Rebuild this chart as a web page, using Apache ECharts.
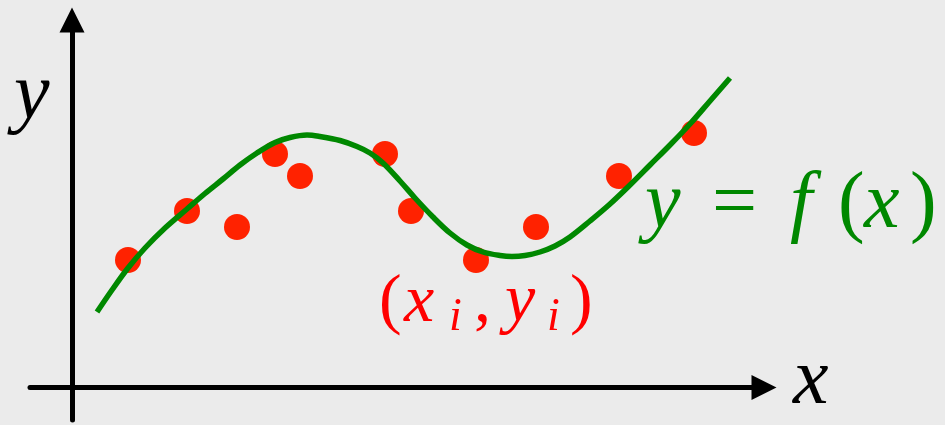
<!DOCTYPE html>
<html>
<head>
<meta charset="utf-8">
<script src="https://cdn.jsdelivr.net/npm/echarts@6/dist/echarts.min.js"></script>
<style>
  html, body { margin: 0; padding: 0; background: #ebebeb; }
  #chart { width: 945px; height: 425px; }
</style>
</head>
<body>
<div id="chart"></div>
<script>
// Fitted curve y = f(x), sampled along its length
const curveX = [0.50, 0.80, 1.12, 1.46, 1.86, 2.30, 2.66, 3.02, 3.36, 3.70, 4.06, 4.36, 4.70, 4.96, 5.36, 5.70, 5.96, 6.22, 6.56, 6.86, 7.22, 7.56, 7.90, 8.22, 8.56, 8.80, 9.06, 9.36, 9.66, 9.96, 10.36, 10.76, 11.16, 11.56, 11.96, 12.36, 12.76, 13.16];
const curveY = [1.51, 1.95, 2.39, 2.79, 3.19, 3.57, 3.88, 4.17, 4.45, 4.69, 4.90, 5.00, 5.05, 5.02, 4.94, 4.82, 4.69, 4.49, 4.13, 3.79, 3.41, 3.09, 2.85, 2.71, 2.64, 2.62, 2.64, 2.71, 2.83, 3.01, 3.33, 3.67, 4.05, 4.45, 4.85, 5.27, 5.73, 6.19];

// Observed data points (x_i, y_i)
const pointX = [1.12, 2.30, 3.30, 4.06, 4.56, 6.26, 6.78, 8.08, 9.28, 10.94, 12.44];
const pointY = [2.55, 3.53, 3.21, 4.67, 4.23, 4.67, 3.53, 2.55, 3.21, 4.23, 5.09];

const curveData = curveX.map((x, i) => [x, curveY[i]]);
const pointData = pointX.map((x, i) => [x, pointY[i]]);

const GREEN = '#008800';
const RED = '#ff2200';
const LABEL_RED = '#ff0000';
const MATH = 'serif';

const axisCommon = {
  type: 'value',
  axisLine: {
    show: true,
    onZero: true,
    symbol: ['none', 'triangle'],
    symbolSize: [25, 25],
    lineStyle: { color: '#000', width: 5 }
  },
  axisTick: { show: false },
  axisLabel: { show: false },
  splitLine: { show: false }
};

// one glyph run of a formula label, anchored at its top-left corner
function txt(text, x, y, size, color, italic) {
  return {
    type: 'text',
    x: x,
    y: y,
    z: 10,
    style: {
      text: text,
      fontFamily: MATH,
      fontStyle: italic ? 'italic' : 'normal',
      fontSize: size,
      fill: color
    }
  };
}

function buildOption() {
  return {
    animation: false,
    backgroundColor: '#ebebeb',
    grid: { left: 30, top: 20, width: 734, height: 400 },
    xAxis: Object.assign({}, axisCommon, { min: -0.84, max: 13.84 }),
    yAxis: Object.assign({}, axisCommon, { min: -0.65, max: 7.35 }),
    series: [
      {
        type: 'scatter',
        data: pointData,
        symbolSize: 26,
        itemStyle: { color: RED, opacity: 1 },
        z: 2
      },
      {
        type: 'line',
        data: curveData,
        smooth: 0.35,
        showSymbol: false,
        lineStyle: { color: GREEN, width: 5.5 },
        z: 3
      }
    ],
    graphic: [
      // axis names
      txt('y', 14, 57, 80, '#000', true),
      txt('x', 793, 342, 80, '#000', true),
      // y = f(x)
      txt('y', 645, 166, 80, GREEN, true),
      txt('=', 712, 166, 80, GREEN, false),
      txt('f', 790, 166, 80, GREEN, true),
      txt('(', 838, 166, 80, GREEN, false),
      txt('x', 864, 166, 80, GREEN, true),
      txt(')', 910, 166, 80, GREEN, false),
      // (x_i, y_i)
      txt('(', 379, 269, 68, LABEL_RED, false),
      txt('x', 404, 269, 68, LABEL_RED, true),
      txt('i', 449, 295, 46, LABEL_RED, true),
      txt(',', 474, 269, 68, LABEL_RED, false),
      txt('y', 505, 269, 68, LABEL_RED, true),
      txt('i', 547, 295, 46, LABEL_RED, true),
      txt(')', 570, 269, 68, LABEL_RED, false)
    ]
  };
}

const chart = echarts.init(document.getElementById('chart'));
chart.setOption(buildOption());
</script>
</body>
</html>
